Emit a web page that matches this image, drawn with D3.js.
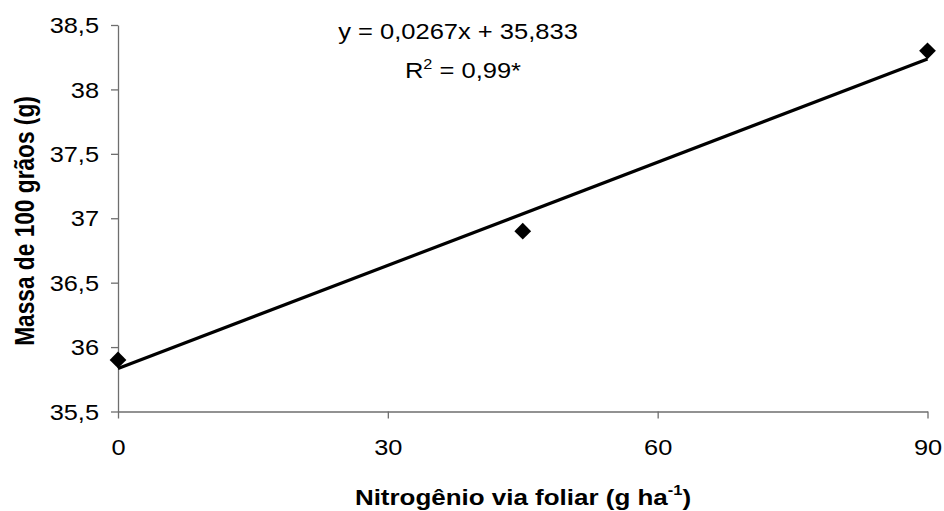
<!DOCTYPE html>
<html>
<head>
<meta charset="utf-8">
<script src="https://cdn.jsdelivr.net/npm/d3@7"></script>
<style>
  body { margin: 0; background: #fff; }
  text { font-family: "Liberation Sans", Arial, sans-serif; fill: #000; }
</style>
</head>
<body>
<div id="chart"></div>
<script>
const width = 944;
const height = 511;

// data
const doses = [0, 45, 90];
const massa = [35.9, 36.9, 38.3];
const xTicks = [0, 30, 60, 90];
const yTicks = [35.5, 36, 36.5, 37, 37.5, 38, 38.5];
const slope = 0.0267;
const intercept = 35.833;

// the original figure is stretched a bit horizontally
const sx = 1.18;

const x = d3.scaleLinear().domain([0, 90]).range([118, 927.5]);
const y = d3.scaleLinear().domain([35.5, 38.5]).range([411.5, 25]);

const svg = d3.select("#chart")
  .append("svg")
  .attr("width", width)
  .attr("height", height);

const fmt = (d) => String(d).replace(".", ",");

const xAxis = svg.append("g")
  .attr("transform", `translate(0,${y(35.5)})`)
  .call(d3.axisBottom(x).tickValues(xTicks).tickSize(7).tickSizeOuter(0).tickFormat(fmt));

const yAxis = svg.append("g")
  .attr("transform", `translate(${x(0)},0)`)
  .call(d3.axisLeft(y).tickValues(yTicks).tickSize(7).tickSizeOuter(0).tickFormat(fmt));

[xAxis, yAxis].forEach((g) => {
  g.attr("font-size", null).attr("font-family", null);
  g.select(".domain").attr("stroke", "#6e6e6e").attr("stroke-width", 1.3);
  g.selectAll(".tick line").attr("stroke", "#6e6e6e").attr("stroke-width", 1.3);
  g.selectAll(".tick text")
    .attr("font-size", 21.5)
    .attr("fill", "#000")
    .attr("x", 0);
});
xAxis.selectAll(".tick text")
  .attr("y", 0)
  .attr("dy", 0)
  .attr("transform", `translate(0,43.5) scale(${sx},1)`);
yAxis.selectAll(".tick text")
  .attr("dy", "0.36em")
  .attr("transform", `translate(-19,0) scale(${sx},1)`);

// regression line
const line = d3.line().x((d) => x(d)).y((d) => y(slope * d + intercept));
svg.append("path")
  .datum([0, 90])
  .attr("d", line)
  .attr("fill", "none")
  .attr("stroke", "#000")
  .attr("stroke-width", 3.2);

// points
svg.selectAll(".pt")
  .data(doses.map((d, i) => [d, massa[i]]))
  .join("path")
  .attr("class", "pt")
  .attr("d", d3.symbol(d3.symbolSquare, 140))
  .attr("transform", (d) => `translate(${x(d[0])},${y(d[1])}) rotate(45)`)
  .attr("fill", "#000");

// equation
svg.append("text")
  .attr("transform", `translate(458,39) scale(1.16,1)`)
  .attr("text-anchor", "middle")
  .attr("font-size", 22)
  .text("y = 0,0267x + 35,833");

const r2 = svg.append("text")
  .attr("transform", `translate(463,78) scale(1.16,1)`)
  .attr("text-anchor", "middle")
  .attr("font-size", 22);
r2.append("tspan").text("R");
r2.append("tspan").attr("font-size", 14).attr("dy", -9).text("2");
r2.append("tspan").attr("dy", 9).text(" = 0,99*");

// axis titles
const xt = svg.append("text")
  .attr("transform", `translate(523,505) scale(${sx},1)`)
  .attr("text-anchor", "middle")
  .attr("font-size", 22)
  .attr("font-weight", "bold");
xt.append("tspan").text("Nitrogênio via foliar (g ha");
xt.append("tspan").attr("font-size", 14).attr("dy", -10).text("-1");
xt.append("tspan").attr("dy", 10).text(")");

svg.append("text")
  .attr("transform", `translate(34,221) scale(${sx},1) rotate(-90)`)
  .attr("text-anchor", "middle")
  .attr("font-size", 22.7)
  .attr("font-weight", "bold")
  .text("Massa de 100 grãos (g)");
</script>
</body>
</html>
